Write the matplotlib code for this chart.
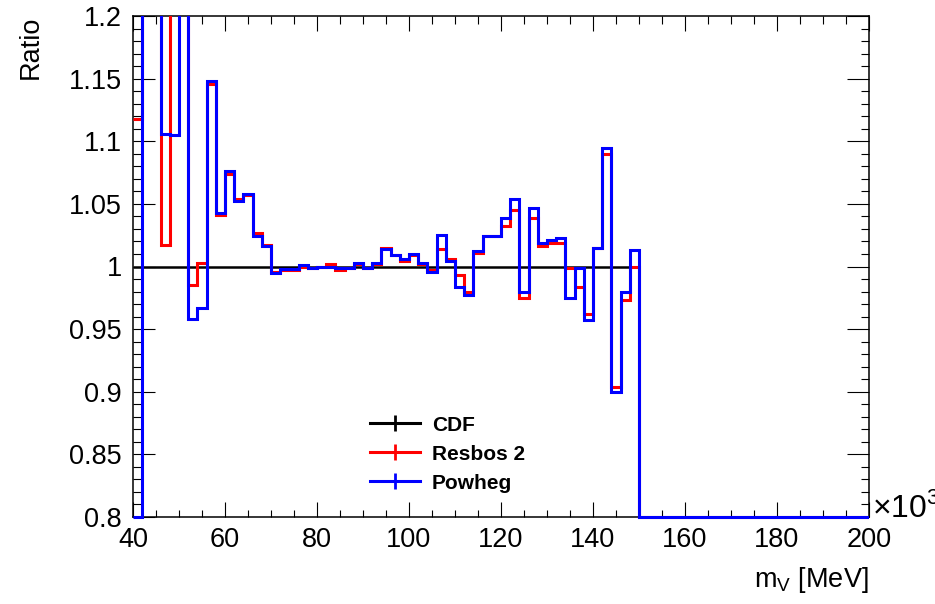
import numpy as np
import matplotlib
matplotlib.use("Agg")
import matplotlib.pyplot as plt
import matplotlib.ticker as plticker
from matplotlib.lines import Line2D
from matplotlib.patches import Rectangle

plt.rcParams['font.family'] = ['Liberation Sans', 'DejaVu Sans']

# Bin edges (x10^3 MeV), 2 wide from 40 to 200
edges = np.arange(40, 202, 2)

# Ratio values per bin from 40 to 150
# (values outside 0.8-1.2 are only known to be off scale)
powheg_vals = [0.6, 1.3, 1.3, 1.106, 1.105, 1.3, 0.958, 0.967, 1.148, 1.043,
               1.076, 1.052, 1.058, 1.024, 1.016, 0.995, 0.998, 0.998, 1.001, 0.999,
               1.000, 1.000, 0.999, 0.999, 1.003, 0.999, 1.003, 1.014, 1.009, 1.006,
               1.010, 1.003, 0.996, 1.025, 1.004, 0.984, 0.977, 1.012, 1.024, 1.024,
               1.039, 1.054, 0.980, 1.047, 1.019, 1.021, 1.023, 0.975, 0.999, 0.957,
               1.015, 1.095, 0.900, 0.980, 1.013]
resbos_vals = [1.118, 1.3, 1.3, 1.017, 1.3, 1.3, 0.985, 1.003, 1.146, 1.041,
               1.074, 1.054, 1.057, 1.027, 1.017, 0.996, 0.997, 0.997, 1.000, 0.999,
               1.000, 1.002, 0.997, 0.999, 1.002, 0.999, 1.002, 1.015, 1.009, 1.004,
               1.009, 1.002, 0.997, 1.014, 1.006, 0.993, 0.980, 1.011, 1.024, 1.024,
               1.032, 1.045, 0.975, 1.039, 1.016, 1.019, 1.019, 0.999, 0.984, 0.962,
               1.015, 1.090, 0.904, 0.973, 1.000]
cdf_vals = [1.0] * 55

# empty bins above 150 give a ratio of 0
n_empty = len(edges) - 1 - 55
powheg = np.array(powheg_vals + [0.0] * n_empty)
resbos = np.array(resbos_vals + [0.0] * n_empty)
cdf = np.array(cdf_vals + [0.0] * n_empty)

ymin, ymax = 0.8, 1.2

fig = plt.figure(figsize=(9.35, 6.04), dpi=100)
ax = fig.add_axes([133/935, 1-517/604, 736/935, 501/604])

# like ROOT, bins under the minimum sit on the bottom of the frame
clip = Rectangle((0, -0.01), 1, 1.01, transform=ax.transAxes, facecolor='none')
for vals, col, lw in [(cdf, 'black', 1.8), (resbos, 'red', 2.2), (powheg, 'blue', 2.2)]:
    st = ax.stairs(np.maximum(vals, ymin), edges, baseline=None, color=col, lw=lw, zorder=3)
    st.set_clip_path(clip)

ax.set_xlim(40, 200)
ax.set_ylim(ymin, ymax)

ax.xaxis.set_major_locator(plticker.MultipleLocator(20))
ax.xaxis.set_minor_locator(plticker.MultipleLocator(5))
ax.yaxis.set_major_locator(plticker.MultipleLocator(0.05))
ax.yaxis.set_minor_locator(plticker.MultipleLocator(0.01))
ax.yaxis.set_major_formatter(plticker.FuncFormatter(lambda v, p: '%g' % round(v, 3)))

ax.tick_params(which='both', direction='in', top=True, right=True, width=0.8,
               labelsize=19.5, colors='black')
ax.tick_params(axis='x', which='major', length=10.8, pad=7)
ax.tick_params(axis='x', which='minor', length=5.4)
ax.tick_params(axis='y', which='major', length=15.6, pad=8)
ax.tick_params(axis='y', which='minor', length=5.8)
for s in ax.spines.values():
    s.set_linewidth(1.1)

ax.set_xlabel('m$_{\\mathregular{V}}$ [MeV]', fontsize=19.5, loc='right', labelpad=9)
ax.set_ylabel('Ratio', fontsize=19.5, loc='top', labelpad=18)
ax.text(1.004, 0.018, '×10$^{\\mathregular{3}}$', transform=ax.transAxes,
        fontsize=23, va='center', ha='left')

handles = [Line2D([], [], color=c, lw=2.2, marker='|', markersize=11, markeredgewidth=2)
           for c in ['black', 'red', 'blue']]
ax.legend(handles, ['CDF', 'Resbos 2', 'Powheg'], loc='upper left',
          bbox_to_anchor=(0.297, 0.24), frameon=False, numpoints=1,
          handlelength=2.4, handletextpad=0.55, labelspacing=0.48,
          prop={'weight': 'bold', 'size': 15})

fig.savefig('out.png', dpi=100)
